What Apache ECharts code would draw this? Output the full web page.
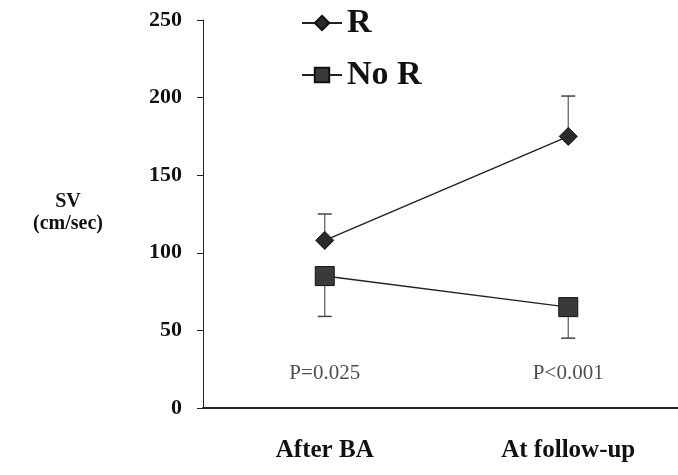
<!DOCTYPE html>
<html>
<head>
<meta charset="utf-8">
<script src="https://cdn.jsdelivr.net/npm/echarts@6/dist/echarts.min.js"></script>
<style>html,body{margin:0;padding:0;background:#fff}#c{width:678px;height:475px}</style>
</head>
<body>
<div id="c"></div>
<script>
var categories = ['After BA', 'At follow-up'];
var rValues = [108, 175];
var rUpper = [125, 201];
var noRValues = [85, 65];
var noRLower = [59, 45];
var pLabels = ['P=0.025', 'P<0.001'];
var pLabelY = 22;
var yTicks = [0, 50, 100, 150, 200, 250];

var serif = '"Liberation Serif","Times New Roman",serif';
var chart = echarts.init(document.getElementById('c'));

function errRender(params, api) {
  var x = api.value(0), v = api.value(1), e = api.value(2);
  var p1 = api.coord([x, v]);
  var p2 = api.coord([x, e]);
  var half = 7;
  return {
    type: 'group',
    children: [
      {type: 'line', shape: {x1: p1[0], y1: p1[1], x2: p2[0], y2: p2[1]}, style: {stroke: '#666', lineWidth: 1.3}},
      {type: 'line', shape: {x1: p2[0] - half, y1: p2[1], x2: p2[0] + half, y2: p2[1]}, style: {stroke: '#444', lineWidth: 1.5}}
    ]
  };
}

chart.setOption({
  animation: false,
  backgroundColor: '#fff',
  grid: {left: 203, right: -12, top: 20, bottom: 67, outerBoundsMode: 'none', containLabel: false},
  legend: {
    orient: 'vertical',
    left: 296,
    top: 1,
    itemGap: 18,
    itemWidth: 40,
    itemHeight: 18,
    data: ['R', 'No R'],
    textStyle: {fontFamily: serif, fontWeight: 'bold', fontSize: 34, color: '#111'}
  },
  xAxis: {
    type: 'category',
    data: categories,
    axisLine: {lineStyle: {color: '#222', width: 1.8}},
    axisTick: {show: false},
    axisLabel: {fontFamily: serif, fontWeight: 'bold', fontSize: 25, color: '#111', margin: 30}
  },
  yAxis: {
    type: 'value',
    min: 0, max: 250, interval: 50,
    axisLine: {show: true, lineStyle: {color: '#222', width: 1}},
    axisTick: {show: true, length: 6, lineStyle: {color: '#222'}},
    splitLine: {show: false},
    axisLabel: {fontFamily: serif, fontWeight: 'bold', fontSize: 22, color: '#111', margin: 21,
      formatter: function (v) { return yTicks.indexOf(v) >= 0 ? String(v) : ''; }}
  },
  graphic: [{
    type: 'text', left: 33, top: 191,
    style: {text: 'SV\n(cm/sec)', fontFamily: serif, fontWeight: 'bold', fontSize: 20, fill: '#111', textAlign: 'center', lineHeight: 22}
  }],
  series: [
    {
      type: 'custom', name: 'errR', renderItem: errRender, z: 1,
      data: categories.map(function (c, i) { return [i, rValues[i], rUpper[i]]; }),
      encode: {x: 0, y: [1, 2]}, silent: true
    },
    {
      type: 'custom', name: 'errNoR', renderItem: errRender, z: 1,
      data: categories.map(function (c, i) { return [i, noRValues[i], noRLower[i]]; }),
      encode: {x: 0, y: [1, 2]}, silent: true
    },
    {
      name: 'R', type: 'line', data: rValues, z: 3,
      symbol: 'diamond', symbolSize: 18,
      lineStyle: {color: '#222', width: 1.5},
      itemStyle: {color: '#2a2a2a', borderColor: '#111', borderWidth: 1}
    },
    {
      name: 'No R', type: 'line', data: noRValues, z: 3,
      symbol: 'rect', symbolSize: 19,
      lineStyle: {color: '#222', width: 1.5},
      itemStyle: {color: '#3a3a3a', borderColor: '#111', borderWidth: 1}
    },
    {
      name: 'P', type: 'scatter', symbolSize: 0, silent: true,
      data: categories.map(function (c, i) { return [i, pLabelY, pLabels[i]]; }),
      label: {show: true, position: 'inside', formatter: function (p) { return p.data[2]; },
        fontFamily: serif, fontSize: 21, color: '#222'}
    }
  ]
});
</script>
</body>
</html>
